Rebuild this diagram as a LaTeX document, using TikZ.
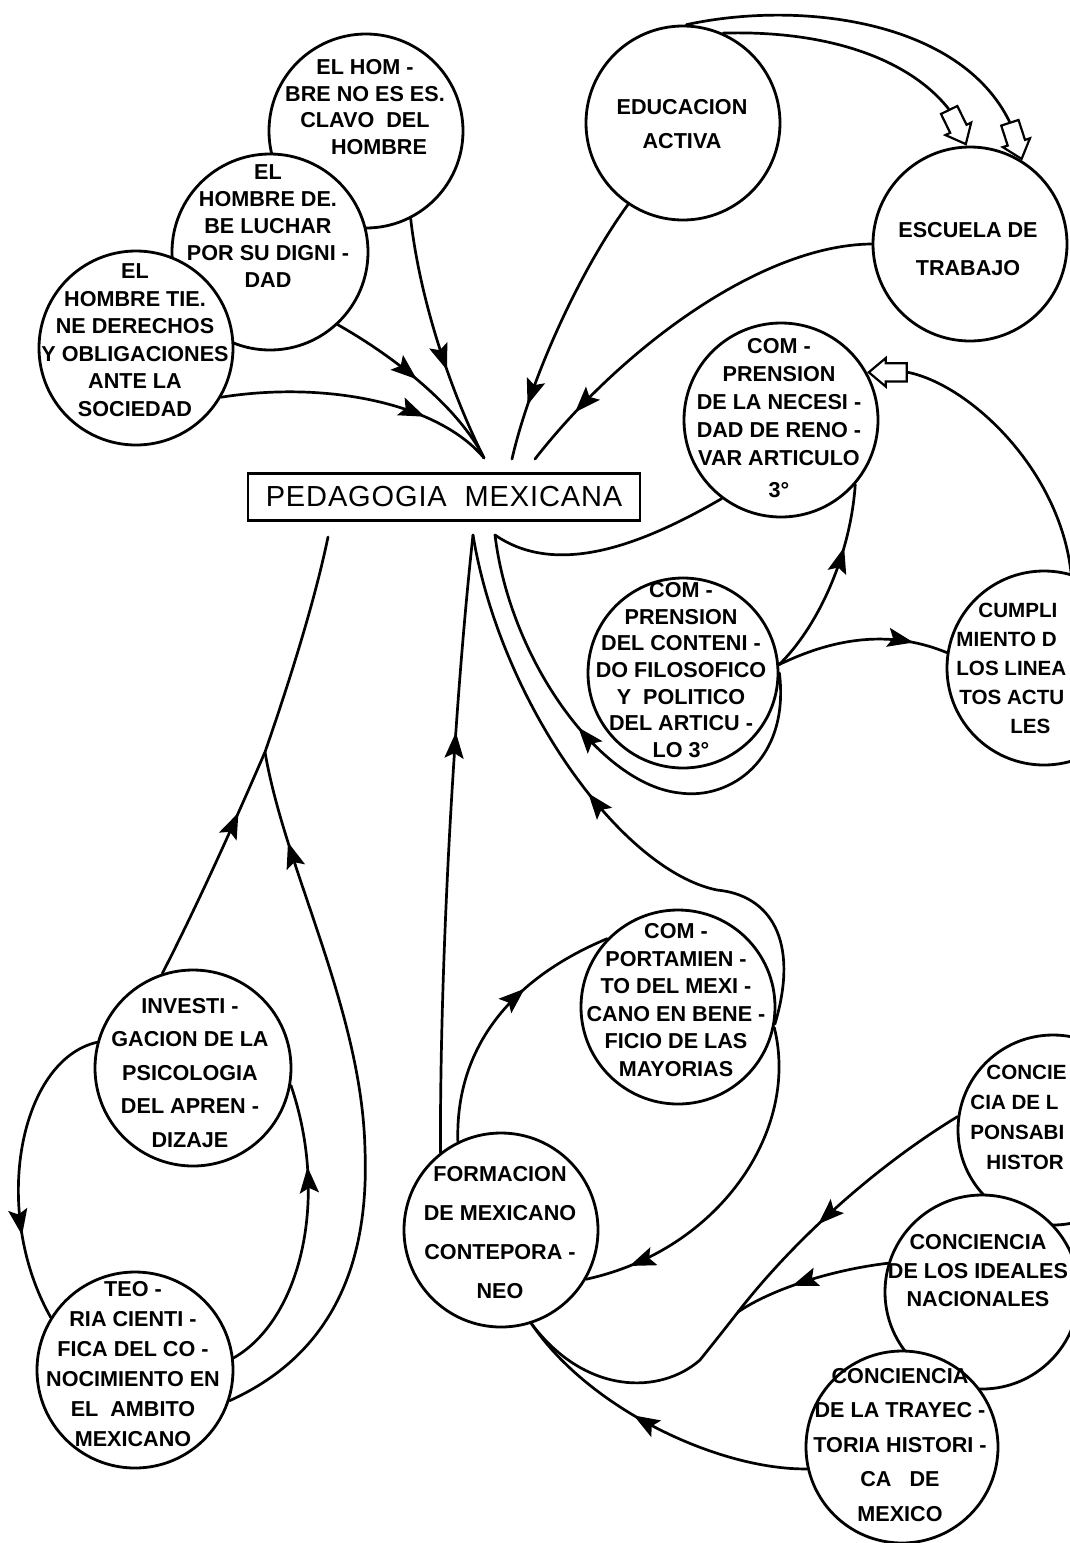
\documentclass[tikz,border=0pt]{standalone}
\usepackage{fontspec}
\setmainfont{Liberation Sans}
\newfontfamily\titlefont[LetterSpace=3.0]{Liberation Sans}
\usetikzlibrary{arrows.meta,decorations.markings,shapes.arrows}

\tikzset{
  bub/.style={circle,draw,fill=white,line width=1.4pt,inner sep=0pt,minimum size=#1},
  bub/.default=97pt,
  lbl/.style={align=center,inner sep=0pt,font=\bfseries\fontsize{10.8}{#1}\selectfont},
  lbl/.default=13.5pt,
  edge/.style={align=left,anchor=west,inner sep=0pt,font=\bfseries\fontsize{10.3}{#1}\selectfont},
  link/.style={line width=1.35pt,line cap=round},
  midarrow/.style={postaction={decorate},decoration={markings,
      mark=at position #1 with {\arrow{Stealth[length=13pt,width=9.5pt,inset=2.5pt]}}}},
  hollow/.style={single arrow,draw,fill=white,line width=1.1pt,inner xsep=0pt,inner ysep=4pt,
      minimum height=19pt,single arrow head extend=2.6pt,single arrow tip angle=80}
}

\begin{document}
\begin{tikzpicture}[x=0.5pt,y=-0.5pt]
\useasboundingbox (0,0) rectangle (1070,1543);

% circles, drawn in order so that the later ones lie on top
\node[bub] (esclavo) at (366,131) {};
\node[bub=98pt] (dignidad) at (270,252) {};
\node[bub] (derechos) at (136,348) {};
\node[bub] (activa) at (683,123) {};
\node[bub] (trabajo) at (970,244) {};
\node[bub] (renovar) at (781,420) {};
\node[bub=95pt] (contenido) at (683,673) {};
\node[bub] (lineam) at (1044,668) {};
\node[bub] (comport) at (678,1007) {};
\node[bub] (formacion) at (501,1230) {};
\node[bub=95pt] (respons) at (1053,1130) {};
\node[bub] (ideales) at (982,1292) {};
\node[bub=96pt] (trayect) at (902,1447) {};
\node[bub=98pt] (investig) at (193,1068) {};
\node[bub=98pt] (teoria) at (135,1370) {};

\node[draw,line width=1.4pt,minimum width=196pt,minimum height=23.5pt,inner sep=0pt,
  font=\titlefont\fontsize{14.5}{15}\selectfont] (pedagogia) at (444,497) {PEDAGOGIA~~MEXICANA};

% texts
\node[lbl=13.25pt] (tesclavo) at (365,107) {EL HOM -\\BRE NO ES ES.\\CLAVO\ \ DEL\\\hspace*{14pt}HOMBRE};
\node[lbl] (tdignidad) at (268,226) {EL\\HOMBRE DE.\\BE LUCHAR\\POR SU DIGNI -\\DAD};
\node[lbl=13.75pt] (tderechos) at (135,340) {EL\\HOMBRE TIE.\\NE DERECHOS\\Y OBLIGACIONES\\ANTE LA\\SOCIEDAD};
\node[lbl=17pt] (tactiva) at (682,124) {EDUCACION\\ACTIVA};
\node[lbl=19pt] (ttrabajo) at (968,249) {ESCUELA DE\\TRABAJO};
\node[lbl=14pt] (trenovar) at (779,418) {COM -\\PRENSION\\DE LA NECESI -\\DAD DE RENO -\\VAR ARTICULO\\[2pt]3°};
\node[lbl=13.3pt] (tcontenido) at (681,670) {COM -\\PRENSION\\DEL CONTENI -\\DO FILOSOFICO\\Y\ \ POLITICO\\DEL ARTICU -\\LO 3°};
\node[edge=14.5pt] (tlineam) at (956,668) {\hspace*{11pt}CUMPLI\\MIENTO D\\LOS LINEA\\\hspace*{1.5pt}TOS ACTU\\\hspace*{27pt}LES};
\node[lbl=13.8pt] (tcomport) at (676,1000) {COM -\\PORTAMIEN -\\TO DEL MEXI -\\CANO EN BENE -\\FICIO DE LAS\\MAYORIAS};
\node[lbl=19.5pt] (tformacion) at (500,1233) {FORMACION\\DE MEXICANO\\CONTEPORA -\\NEO};
\node[edge=15pt] (trespons) at (970,1117) {\hspace*{8pt}CONCIE\\CIA DE L\\PONSABI\\\hspace*{8pt}HISTOR};
\node[lbl=14.25pt] (tideales) at (978,1271) {CONCIENCIA\\DE LOS IDEALES\\NACIONALES};
\node[lbl=17.25pt] (ttrayect) at (900,1445) {CONCIENCIA\\DE LA TRAYEC -\\TORIA HISTORI -\\CA\ \ \ DE\\MEXICO};
\node[lbl=16.75pt] (tinvestig) at (190,1073) {INVESTI -\\GACION DE LA\\PSICOLOGIA\\DEL APREN -\\DIZAJE};
\node[lbl=15pt] (tteoria) at (133,1364) {TEO -\\RIA CIENTI -\\FICA DEL CO -\\NOCIMIENTO EN\\EL\ \ AMBITO\\MEXICANO};

% free ends near the box
\coordinate (meet) at (484,458);
\coordinate (meetb) at (512,459);
\coordinate (meetc) at (535,459);
\coordinate (cuspa) at (473,535);
\coordinate (cuspb) at (495,535);
\coordinate (boxl) at (328,537);
\coordinate (cuspc) at (265,752);
\coordinate (merge) at (738,1312);
\coordinate (kink) at (700,1360);

% top left group
\draw[link,midarrow=0.62] (esclavo.-63) .. controls (420,300) and (450,390) .. (meet);
\draw[link,midarrow=0.48] (dignidad.-47) .. controls (400,360) and (460,410) .. (meet);
\draw[link,midarrow=0.74] (derechos.-30) .. controls (330,380) and (440,405) .. (meet);
\draw[link,midarrow=0.8] (activa.-124) .. controls (580,270) and (530,380) .. (meetb);
\draw[link,midarrow=0.85] (trabajo.180) .. controls (760,245) and (620,350) .. (meetc);

% hollow arrows
\node[hollow,rotate=-64,anchor=tip] (hin) at (trabajo.92) {};
\node[hollow,rotate=-72,anchor=tip] (hout) at (trabajo.58) {};
\node[hollow,rotate=180,anchor=tip] (hleft) at (renovar.29) {};
\draw[link] (activa.88) .. controls (800,0) and (960,20) .. (hout.tail);
\draw[link] (activa.66) .. controls (830,30) and (910,60) .. (hin.tail);
\draw[link] (lineam.74) .. controls (1060,470) and (970,385) .. (hleft.tail);

% middle group
\draw[link] (renovar.-127) .. controls (650,540) and (560,580) .. (cuspb);
\draw[link,midarrow=0.59] (contenido.0) .. controls (790,760) and (730,800) .. (680,793)
  .. controls (600,785) and (510,660) .. (cuspb);
\draw[link,midarrow=0.68] (contenido.5) .. controls (815,630) and (850,560) .. (renovar.-41);
\draw[link,midarrow=0.8] (contenido.5) .. controls (820,645) and (880,625) .. (lineam.171);
\draw[link,midarrow=0.68] (formacion.128) .. controls (440,950) and (455,700) .. (cuspa);
\draw[link,midarrow=0.54] (comport.-10) .. controls (800,940) and (770,895) .. (717,890)
  .. controls (620,870) and (500,700) .. (cuspa);
\draw[link,midarrow=0.87] (comport.-12) .. controls (800,1130) and (720,1250) .. (formacion.-30);
\draw[link,midarrow=0.64] (formacion.116) .. controls (455,1040) and (520,975) .. (comport.136);

% bottom right group
\draw[link,midarrow=0.57] (trayect.193) .. controls (720,1470) and (590,1410) .. (formacion.-72);
\draw[link,midarrow=0.32] (respons.172) .. controls (870,1170) and (790,1245) .. (merge)
  .. controls (720,1335) and (712,1345) .. (kink)
  .. controls (660,1395) and (585,1395) .. (formacion.-72);
\draw[link,midarrow=0.62] (ideales.163) .. controls (830,1270) and (770,1290) .. (merge);

% bottom left group
\draw[link,midarrow=0.38] (investig.108) .. controls (200,900) and (240,810) .. (cuspc)
  .. controls (290,680) and (315,600) .. (boxl);
\draw[link,midarrow=0.87] (teoria.-18) .. controls (320,1360) and (370,1280) .. (365,1150)
  .. controls (362,1010) and (285,870) .. (cuspc);
\draw[link,midarrow=0.72] (teoria.7) .. controls (300,1320) and (330,1200) .. (investig.-10);
\draw[link,midarrow=0.72] (investig.165) .. controls (20,1060) and (-10,1210) .. (teoria.148);
\end{tikzpicture}
\end{document}
